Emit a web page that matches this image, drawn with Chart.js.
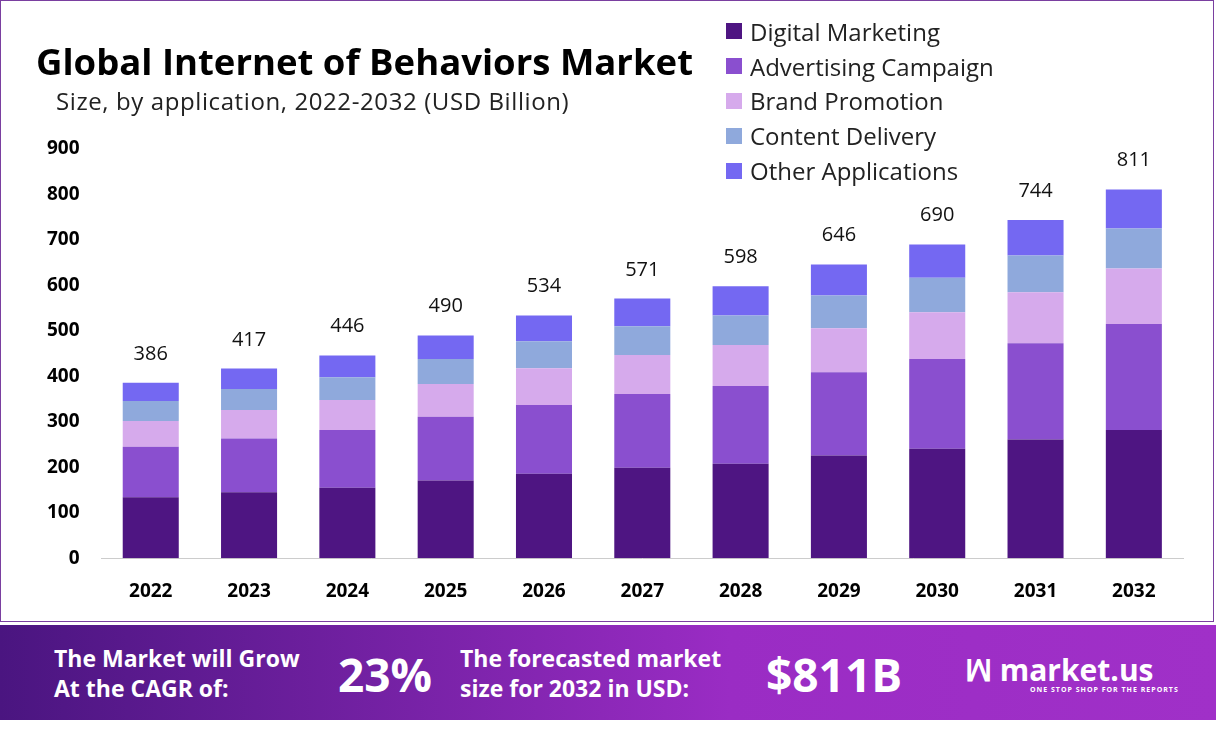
<!DOCTYPE html>
<html><head><meta charset="utf-8">
<script src="https://cdn.jsdelivr.net/npm/chart.js@4"></script>
<style>
body{margin:0;width:1216px;height:732px;background:#fff;font-family:Poppins,"Open Sans",sans-serif;position:relative;overflow:hidden}
#frame{position:absolute;left:0;top:0;width:1214px;height:622px;border:1px solid #7a3fa0;box-sizing:border-box}
#c{position:absolute;left:0;top:0}
#title{position:absolute;left:36px;top:36px;font:bold 36.5px "Open Sans",sans-serif;color:#000}
#sub{position:absolute;left:56px;top:84px;font:24px "Open Sans",sans-serif;letter-spacing:0.6px;color:#222}
#legend{position:absolute;left:726px;top:14px;font:24px "Open Sans",sans-serif;color:#222}
#legend div{height:34.8px;display:flex;align-items:center}
#legend span{display:inline-block;width:16px;height:16px;margin-right:8px}
#banner{position:absolute;left:0;top:625px;width:1216px;height:95px;background:linear-gradient(90deg,#4a1580,#9a2cc4 60%,#a030c8);color:#fff}
.b{position:absolute;font-weight:bold;font-family:"Open Sans",sans-serif}
</style></head><body>
<div id="frame"></div>
<canvas id="c" width="1216" height="620"></canvas>
<div id="title">Global Internet of Behaviors Market</div>
<div id="sub">Size, by application, 2022-2032 (USD Billion)</div>
<div id="legend"></div>
<div id="banner">
<div class="b" style="left:54px;top:18px;font-size:23px;line-height:30px">The Market will Grow<br>At the CAGR of:</div>
<div class="b" style="left:338px;top:18px;font-size:46px">23%</div>
<div class="b" style="left:460px;top:18px;font-size:23px;line-height:30px">The forecasted market<br>size for 2032 in USD:</div>
<div class="b" style="left:766px;top:18px;font-size:46px">$811B</div>
<div class="b" style="left:965px;top:24px;font-size:30px">ꟽ market.us</div>
<div class="b" style="left:1030px;top:60px;font-size:7px;letter-spacing:1px">ONE STOP SHOP FOR THE REPORTS</div>
</div>
<script>
const years=["2022","2023","2024","2025","2026","2027","2028","2029","2030","2031","2032"];
const digital=[134,145,155,171,186,199,208,226,241,261,282];
const advertising=[111,118,127,140,151,162,171,183,197,212,233];
const brand=[57,63,66,72,81,86,90,97,103,112,122];
const content=[44,46,50,55,59,63,65,72,76,81,88];
const other=[40,45,48,52,57,61,64,68,73,78,86];
const totals=[386,417,446,490,534,571,598,646,690,744,811];
const names=["Digital Marketing","Advertising Campaign","Brand Promotion","Content Delivery","Other Applications"];
const colors=["#4e1582","#8a4fcf","#d6aaec","#8fa9dc","#7468f2"];
const series=[digital,advertising,brand,content,other];
document.getElementById('legend').innerHTML=names.map((n,i)=>`<div><span style="background:${colors[i]}"></span>${n}</div>`).join('');
const totalPlugin={id:'tot',afterDatasetsDraw(ch){const ctx=ch.ctx;const m=ch.getDatasetMeta(4);ctx.save();ctx.font='20px "Open Sans",sans-serif';ctx.fillStyle='#111';ctx.textAlign='center';m.data.forEach((b,i)=>ctx.fillText(totals[i],b.x,b.y-23));ctx.restore();}};
new Chart(document.getElementById('c'),{type:'bar',
data:{labels:years,datasets:series.map((d,i)=>({label:names[i],data:d,backgroundColor:colors[i],barPercentage:0.57,categoryPercentage:1}))},
plugins:[totalPlugin],
options:{responsive:false,animation:false,layout:{padding:{top:149,left:33,right:33,bottom:3}},
plugins:{legend:{display:false},tooltip:{enabled:false}},
scales:{x:{stacked:true,grid:{display:false},border:{color:'#ccc'},ticks:{color:'#000',font:{size:19,weight:'bold',family:'"Open Sans"'},padding:14}},
y:{stacked:true,min:0,max:900,ticks:{stepSize:100,color:'#000',font:{size:19,weight:'bold',family:'"Open Sans"'},padding:14},grid:{display:false},border:{display:false}}}}});
</script>
</body></html>
